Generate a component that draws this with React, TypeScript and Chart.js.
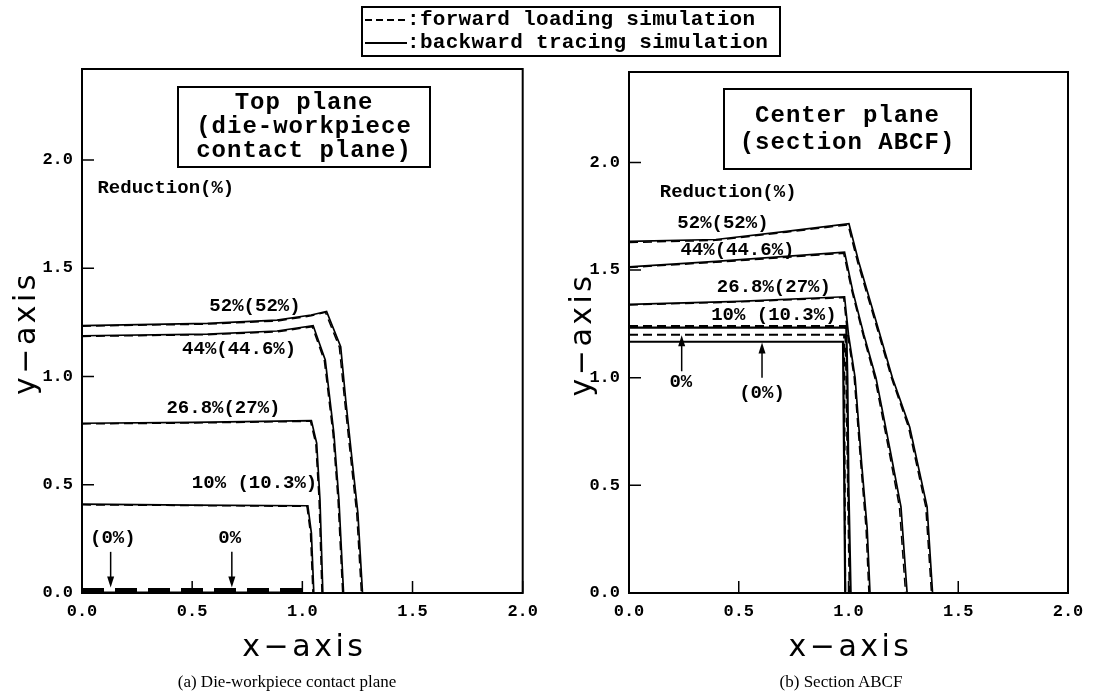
import { useEffect, useRef } from 'react';
import { Chart, registerables } from 'chart.js';
Chart.register(...registerables);

// ---------------- Panel (a): top plane ----------------
// backward tracing simulation (solid)
const a52Bx = [0, 0.57, 0.885, 1.04, 1.11, 1.174, 1.197, 1.229, 1.252, 1.273];
const a52By = [1.235, 1.245, 1.26, 1.284, 1.3, 1.138, 0.89, 0.583, 0.369, 0];
const a44Bx = [0, 0.57, 0.885, 1.049, 1.104, 1.143, 1.166, 1.187];
const a44By = [1.188, 1.196, 1.21, 1.235, 1.076, 0.739, 0.43, 0];
const a27Bx = [0, 0.5, 1.041, 1.065, 1.08, 1.093];
const a27By = [0.784, 0.788, 0.796, 0.692, 0.43, 0];
const a10Bx = [0, 0.5, 1.025, 1.041, 1.052];
const a10By = [0.41, 0.406, 0.403, 0.277, 0];
const a0Bx = [0, 1.0];
const a0By = [0.003, 0.003];
// forward loading simulation (dashed)
const a52Fx = [0, 0.57, 0.885, 1.04, 1.105, 1.168, 1.192, 1.224, 1.247, 1.268];
const a52Fy = [1.232, 1.242, 1.256, 1.28, 1.296, 1.135, 0.888, 0.58, 0.366, 0];
const a44Fx = [0, 0.57, 0.885, 1.045, 1.1, 1.139, 1.162, 1.183];
const a44Fy = [1.185, 1.193, 1.206, 1.23, 1.072, 0.737, 0.43, 0];
const a27Fx = [0, 0.5, 1.037, 1.061, 1.076, 1.089];
const a27Fy = [0.781, 0.785, 0.793, 0.69, 0.43, 0];
const a10Fx = [0, 0.5, 1.021, 1.037, 1.048];
const a10Fy = [0.407, 0.404, 0.4, 0.275, 0];
const a0Fx = [0, 1.0];
const a0Fy = [0.012, 0.012];

// ---------------- Panel (b): section ABCF ----------------
const b52Bx = [0, 0.396, 0.717, 1.002, 1.046, 1.134, 1.2, 1.279, 1.358, 1.383];
const b52By = [1.633, 1.642, 1.68, 1.716, 1.54, 1.233, 1.0, 0.77, 0.4, 0];
const b44Bx = [0, 0.396, 0.982, 1.02, 1.07, 1.125, 1.19, 1.239, 1.267];
const b44By = [1.515, 1.54, 1.583, 1.4, 1.2, 1.0, 0.662, 0.4, 0];
const b27Bx = [0, 0.5, 0.982, 1.0, 1.03, 1.06, 1.085, 1.098];
const b27By = [1.341, 1.355, 1.376, 1.2, 1.0, 0.6, 0.3, 0];
const b10Bx = [0, 0.99, 0.995, 1.0, 1.01];
const b10By = [1.233, 1.233, 1.0, 0.5, 0];
const b0Bx = [0, 0.975, 0.98, 0.985];
const b0By = [1.167, 1.167, 0.6, 0];
const b52Fx = [0, 0.396, 0.717, 0.998, 1.042, 1.13, 1.196, 1.274, 1.352, 1.378];
const b52Fy = [1.628, 1.638, 1.676, 1.71, 1.535, 1.23, 0.998, 0.768, 0.4, 0];
const b44Fx = [0, 0.396, 0.978, 1.016, 1.066, 1.12, 1.184, 1.232, 1.26];
const b44Fy = [1.512, 1.536, 1.578, 1.4, 1.2, 1.0, 0.662, 0.4, 0];
const b27Fx = [0, 0.5, 0.978, 0.996, 1.026, 1.056, 1.08, 1.093];
const b27Fy = [1.338, 1.352, 1.372, 1.2, 1.0, 0.6, 0.3, 0];
const b10Fx = [0, 0.985, 0.99, 0.997, 1.005];
const b10Fy = [1.24, 1.24, 1.0, 0.5, 0];
const b0Fx = [0, 0.98, 0.985];
const b0Fy = [1.2, 1.2, 0];

// axes
const xMin = 0, xMax = 2.0, xStep = 0.5;
const yMin = 0, yMax = 2.42, yStep = 0.5;

// annotation texts
const aLabelText = ['Reduction(%)', '52%(52%)', '44%(44.6%)', '26.8%(27%)', '10% (10.3%)', '(0%)', '0%'];
const aLabelX = [0.07, 0.785, 0.713, 0.642, 0.783, 0.14, 0.67];
const aLabelY = [1.87, 1.325, 1.127, 0.855, 0.508, 0.254, 0.254];
const aArrowX = [0.13, 0.68];
const aArrowFrom = [0.19, 0.19];
const aArrowTo = [0.025, 0.025];

const bLabelText = ['Reduction(%)', '52%(52%)', '44%(44.6%)', '26.8%(27%)', '10% (10.3%)', '0%', '(0%)'];
const bLabelX = [0.14, 0.428, 0.494, 0.66, 0.66, 0.236, 0.606];
const bLabelY = [1.86, 1.717, 1.592, 1.42, 1.29, 0.977, 0.93];
const bArrowX = [0.24, 0.606];
const bArrowFrom = [1.03, 1.0];
const bArrowTo = [1.197, 1.163];

const pts = (xs: number[], ys: number[]) => xs.map((x, i) => ({ x, y: ys[i] }));

const solid = (xs: number[], ys: number[], w = 1.7) => ({
  data: pts(xs, ys), showLine: true, borderColor: '#000', borderWidth: w,
  pointRadius: 0, fill: false, tension: 0,
});
const dashed = (xs: number[], ys: number[], w = 1.5, dash = [9, 5]) => ({
  data: pts(xs, ys), showLine: true, borderColor: '#000', borderWidth: w,
  borderDash: dash, pointRadius: 0, fill: false, tension: 0,
});

interface PanelCfg {
  datasets: any[];
  labels: { t: string[]; x: number[]; y: number[] };
  arrows: { x: number[]; from: number[]; to: number[] };
  yWidth: number;
  padRight: number;
  padTop: number;
  yTitleOffset: number;
}

function makeChart(canvas: HTMLCanvasElement, p: PanelCfg) {
  const decor = {
    id: 'decor',
    afterDatasetsDraw(chart: any) {
      const { ctx, chartArea: a, scales } = chart;
      const sx = scales.x, sy = scales.y;
      ctx.save();
      ctx.strokeStyle = '#000';
      ctx.fillStyle = '#000';
      // frame
      ctx.lineWidth = 2;
      ctx.strokeRect(a.left, a.top, a.right - a.left, a.bottom - a.top);
      // inward ticks
      ctx.lineWidth = 1.5;
      ctx.beginPath();
      sx.ticks.forEach((t: any) => {
        const px = sx.getPixelForValue(t.value);
        ctx.moveTo(px, a.bottom); ctx.lineTo(px, a.bottom - 12);
      });
      sy.ticks.forEach((t: any) => {
        const py = sy.getPixelForValue(t.value);
        ctx.moveTo(a.left, py); ctx.lineTo(a.left + 12, py);
      });
      ctx.stroke();
      // labels
      ctx.font = 'bold 19px "Liberation Mono"';
      ctx.textBaseline = 'middle';
      p.labels.t.forEach((t, i) => {
        ctx.textAlign = i === 0 ? 'left' : 'center';
        ctx.fillText(t, sx.getPixelForValue(p.labels.x[i]), sy.getPixelForValue(p.labels.y[i]));
      });
      // arrows
      ctx.lineWidth = 1.5;
      p.arrows.x.forEach((xv, i) => {
        const px = sx.getPixelForValue(xv);
        const y0 = sy.getPixelForValue(p.arrows.from[i]);
        const y1 = sy.getPixelForValue(p.arrows.to[i]);
        const dir = y1 > y0 ? 1 : -1;
        ctx.beginPath();
        ctx.moveTo(px, y0); ctx.lineTo(px, y1 - dir * 8);
        ctx.stroke();
        ctx.beginPath();
        ctx.moveTo(px, y1);
        ctx.lineTo(px - 3.5, y1 - dir * 11);
        ctx.lineTo(px + 3.5, y1 - dir * 11);
        ctx.closePath();
        ctx.fill();
      });
      // axis titles
      ctx.font = '30px "DejaVu Sans"';
      (ctx as any).letterSpacing = '3.5px';
      ctx.textAlign = 'center';
      ctx.textBaseline = 'middle';
      ctx.fillText('x\u2212axis', (a.left + a.right) / 2 + 2, a.bottom + 55);
      ctx.translate(a.left - p.yTitleOffset, (a.top + a.bottom) / 2 + 2);
      ctx.rotate(-Math.PI / 2);
      ctx.fillText('y\u2212axis', 0, 0);
      ctx.restore();
    },
  };

  return new Chart(canvas, {
    type: 'scatter',
    data: { datasets: p.datasets },
    options: {
      animation: false,
      responsive: false,
      maintainAspectRatio: false,
      layout: { padding: { top: p.padTop, right: p.padRight, left: 0, bottom: 0 } },
      plugins: { legend: { display: false }, tooltip: { enabled: false } },
      scales: {
        x: {
          type: 'linear', min: xMin, max: xMax,
          border: { display: false },
          grid: { display: false, drawTicks: false },
          ticks: {
            stepSize: xStep, includeBounds: false, padding: 9, color: '#000',
            font: { family: '"Liberation Mono"', size: 17, weight: 'bold' },
            callback: (v: any) => Number(v).toFixed(1),
            maxRotation: 0,
          },
          afterFit: (s: any) => { s.height = 105; },
        },
        y: {
          type: 'linear', min: yMin, max: yMax,
          border: { display: false },
          grid: { display: false, drawTicks: false },
          ticks: {
            stepSize: yStep, includeBounds: false, padding: 9, color: '#000',
            font: { family: '"Liberation Mono"', size: 17, weight: 'bold' },
            callback: (v: any) => Number(v).toFixed(1),
          },
          afterFit: (s: any) => { s.width = p.yWidth; },
        },
      },
    } as any,
    plugins: [decor],
  });
}

const panelA: PanelCfg = {
  datasets: [
    solid(a52Bx, a52By), dashed(a52Fx, a52Fy),
    solid(a44Bx, a44By), dashed(a44Fx, a44Fy),
    solid(a27Bx, a27By), dashed(a27Fx, a27Fy),
    solid(a10Bx, a10By), dashed(a10Fx, a10Fy),
    solid(a0Bx, a0By), dashed(a0Fx, a0Fy, 5, [22, 11]),
  ],
  labels: { t: aLabelText, x: aLabelX, y: aLabelY },
  arrows: { x: aArrowX, from: aArrowFrom, to: aArrowTo },
  yWidth: 82, padRight: 18, padTop: 69, yTitleOffset: 55,
};

const panelB: PanelCfg = {
  datasets: [
    solid(b52Bx, b52By), dashed(b52Fx, b52Fy),
    solid(b44Bx, b44By), dashed(b44Fx, b44Fy),
    solid(b27Bx, b27By), dashed(b27Fx, b27Fy),
    solid(b10Bx, b10By, 2.2), dashed(b10Fx, b10Fy, 2),
    solid(b0Bx, b0By, 2.2), dashed(b0Fx, b0Fy, 2),
  ],
  labels: { t: bLabelText, x: bLabelX, y: bLabelY },
  arrows: { x: bArrowX, from: bArrowFrom, to: bArrowTo },
  yWidth: 82, padRight: 25, padTop: 72, yTitleOffset: 46,
};

function Panel({ cfg, left, width }: { cfg: PanelCfg; left: number; width: number }) {
  const ref = useRef<HTMLCanvasElement>(null);
  useEffect(() => {
    if (!ref.current) return;
    const c = makeChart(ref.current, cfg);
    return () => c.destroy();
  }, [cfg]);
  return (
    <canvas ref={ref} width={width} height={698}
      style={{ position: 'absolute', left, top: 0, width, height: 698 }} />
  );
}

const mono = '"Liberation Mono", monospace';

export default function App() {
  return (
    <div style={{ position: 'absolute', left: 0, top: 0, width: 1093, height: 698, background: '#fff', overflow: 'hidden' }}>
      <Panel cfg={panelA} left={0} width={547} />
      <Panel cfg={panelB} left={547} width={546} />

      {/* legend */}
      <div style={{
        position: 'absolute', left: 361, top: 6, width: 416, height: 47, border: '2px solid #000',
        fontFamily: mono, fontWeight: 'bold', fontSize: 21, lineHeight: '24px', color: '#000',
        whiteSpace: 'nowrap', letterSpacing: '0.3px',
      }}>
        <div style={{ display: 'flex', alignItems: 'center', height: 23 }}>
          <span style={{ display: 'inline-block', width: 42, height: 2, marginLeft: 2,
            background: 'repeating-linear-gradient(to right,#000 0 7px,transparent 7px 11px)' }} />
          <span>:forward loading simulation</span>
        </div>
        <div style={{ display: 'flex', alignItems: 'center', height: 24 }}>
          <span style={{ display: 'inline-block', width: 42, height: 2, marginLeft: 2, background: '#000' }} />
          <span>:backward tracing simulation</span>
        </div>
      </div>

      {/* title boxes */}
      <div style={{
        position: 'absolute', left: 177, top: 86, width: 250, height: 78, border: '2px solid #000',
        fontFamily: mono, fontWeight: 'bold', fontSize: 24, lineHeight: '24px', color: '#000',
        textAlign: 'center', whiteSpace: 'pre', display: 'flex', flexDirection: 'column', justifyContent: 'center',
        letterSpacing: '1px',
      }}>
        <div>Top plane</div>
        <div>(die-workpiece</div>
        <div>contact plane)</div>
      </div>
      <div style={{
        position: 'absolute', left: 723, top: 88, width: 245, height: 78, border: '2px solid #000',
        fontFamily: mono, fontWeight: 'bold', fontSize: 24, lineHeight: '27px', color: '#000',
        textAlign: 'center', whiteSpace: 'pre', display: 'flex', flexDirection: 'column', justifyContent: 'center',
        letterSpacing: '1px',
      }}>
        <div>Center plane</div>
        <div>(section ABCF)</div>
      </div>

      {/* captions */}
      <div style={{ position: 'absolute', left: 0, width: 574, top: 672, textAlign: 'center',
        fontFamily: '"Liberation Serif", serif', fontSize: 17, color: '#000' }}>
        (a) Die-workpiece contact plane
      </div>
      <div style={{ position: 'absolute', left: 690, width: 302, top: 672, textAlign: 'center',
        fontFamily: '"Liberation Serif", serif', fontSize: 17, color: '#000' }}>
        (b) Section ABCF
      </div>
    </div>
  );
}
